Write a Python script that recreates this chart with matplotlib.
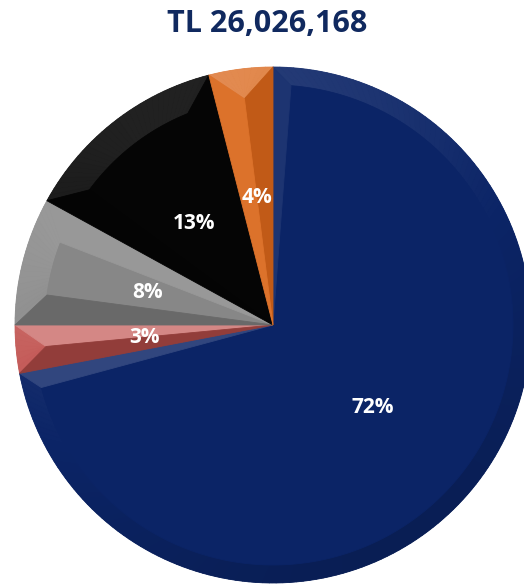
import numpy as np
import matplotlib
matplotlib.use('Agg')
import matplotlib.pyplot as plt
from matplotlib.patches import Polygon
from matplotlib.colors import to_rgb

# share of total by segment (clockwise from 12 o'clock)
shares = [72, 3, 8, 13, 4]
colors = ['#0b2466', '#c0504d', '#878787', '#050505', '#d9661a']
title = 'TL 26,026,168'

W, H = 524, 586
fig = plt.figure(figsize=(W / 100, H / 100), dpi=100)
ax = fig.add_axes([0, 0, 1, 1])

cx, cy, R = 273, H - 325, 258
light = np.array([-0.45, 0.89])
light = light / np.linalg.norm(light)
font = ['Open Sans', 'DejaVu Sans']

wedges, texts, autotexts = ax.pie(
    shares, colors=colors, startangle=90, counterclock=False,
    center=(cx, cy), radius=R, autopct='%1.0f%%', pctdistance=0.5,
    frame=True, wedgeprops=dict(linewidth=0),
    textprops=dict(color='white', fontsize=15, fontweight='bold',
                   family=font))
ax.set_xlim(0, W)
ax.set_ylim(0, H)
ax.set_aspect('equal')
ax.axis('off')
for t in autotexts:
    t.set_zorder(5)

# bevel width and how strongly each wedge's bevel picks up the light
bevels = [18, 30, 30, 30, 30]
strength = [0.16, 0.35, 0.25, 0.16, 0.35]


def shade(base, f, k):
    c = np.array(to_rgb(base))
    if f >= 0:
        return tuple(c + (1 - c) * k * f)
    return tuple(c * (1 + 0.25 * f))


def pt(r, a):
    return (cx + r * np.cos(np.radians(a)), cy + r * np.sin(np.radians(a)))


def unit(a):
    return np.array([np.cos(np.radians(a)), np.sin(np.radians(a))])


def facet(xy, fc, z=2):
    ax.add_patch(Polygon(xy, closed=True, fc=fc, ec=fc, lw=0.6, zorder=z))


# bevel facets drawn over every wedge, all running into the centre
for w, col, b, k in zip(wedges, colors, bevels, strength):
    a1, a2 = w.theta1, w.theta2
    if a2 < a1:
        a2 += 360
    half = (a2 - a1) / 2
    ri = R - b
    dlt = min(np.degrees(np.arcsin(b / ri)), half)

    # rim facet, split into small pieces so the shading follows the arc
    n = max(int((a2 - a1) / 1.5), 4)
    to = np.linspace(a1, a2, n + 1)
    ti = np.linspace(a1 + dlt, a2 - dlt, n + 1)
    for j in range(n):
        fa = unit((to[j] + to[j + 1]) / 2) @ light
        facet([pt(R, to[j]), pt(R, to[j + 1]), pt(ri, ti[j + 1]), pt(ri, ti[j])],
              shade(col, fa * 0.7, k))

    # radial edge facets
    f1 = unit(a1 - 90) @ light
    facet([(cx, cy), pt(R, a1), pt(ri, a1 + dlt)], shade(col, f1, k), 3)
    f2 = unit(a2 + 90) @ light
    facet([(cx, cy), pt(ri, a2 - dlt), pt(R, a2)], shade(col, f2, k), 3)

    # flat top of the wedge
    if a2 - a1 > 2 * dlt + 0.5:
        facet([(cx, cy)] + [pt(ri, a) for a in ti], col, 2.5)

fig.text(267 / W, 1 - 24 / H, title, ha='center', va='center',
         fontsize=22, fontweight='bold', color='#10295f', family=font)

fig.savefig('out.png', dpi=100)
